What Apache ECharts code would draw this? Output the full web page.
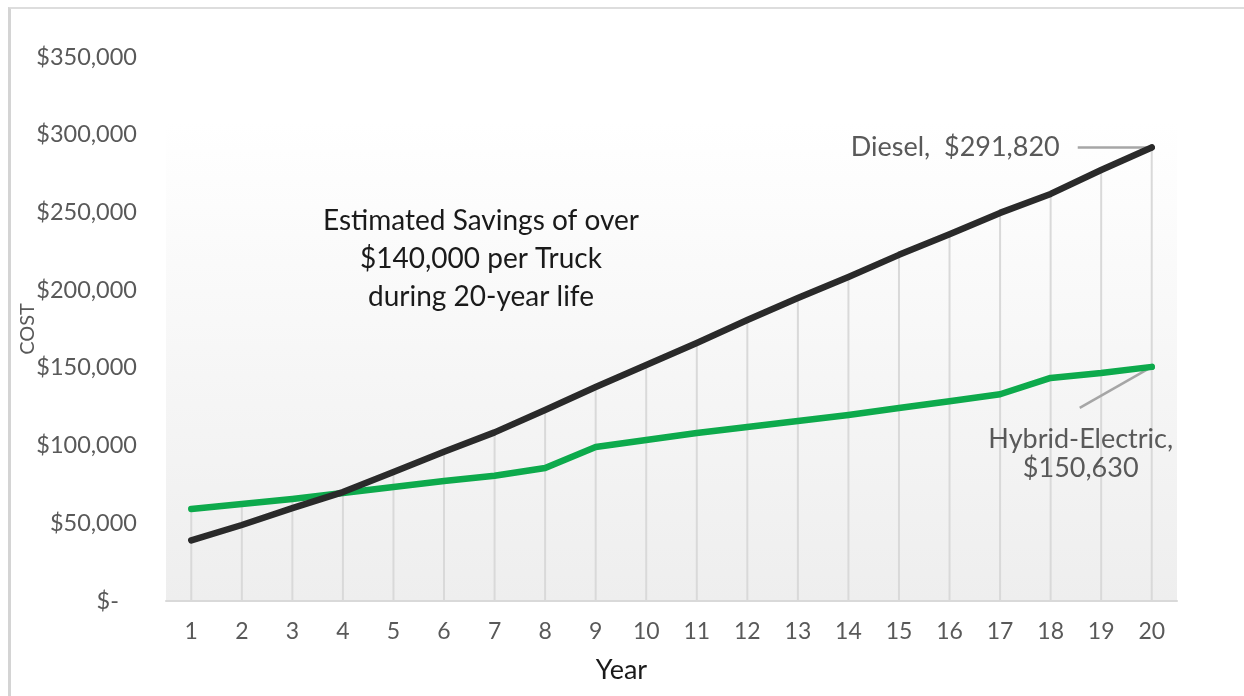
<!DOCTYPE html>
<html>
<head>
<meta charset="utf-8">
<script src="https://cdn.jsdelivr.net/npm/echarts@6/dist/echarts.min.js"></script>
<style>
  html, body { margin: 0; padding: 0; background: #ffffff; }
  #chart { position: absolute; left: 0; top: 0; width: 1244px; height: 696px; }
  #frame { position: absolute; left: 8px; top: 7px; right: 0; bottom: 0;
           border-left: 3px solid #d4d4d4; border-top: 2px solid #dddddd; pointer-events: none; }
</style>
</head>
<body>
<div id="chart"></div>
<div id="frame"></div>
<script>
// Cumulative cost of ownership per truck, by year of service
const years = ['1','2','3','4','5','6','7','8','9','10','11','12','13','14','15','16','17','18','19','20'];
const dieselCost = [39000, 48900, 59800, 70100, 83000, 96000, 108500, 122900, 137700, 151900,
                    166000, 180800, 195000, 208500, 222700, 236000, 249700, 261900, 277300, 291820];
const hybridCost = [59200, 62400, 65600, 69500, 73400, 77200, 80600, 85600, 99100, 103600,
                    108100, 112000, 115800, 119700, 124200, 128500, 133000, 143500, 146700, 150630];
const seriesNames = ['Diesel', 'Hybrid-Electric'];
const savingsNote = ['Estimated Savings of over', '$140,000 per Truck', 'during 20-year life'];

const FONT = 'Lato, "Open Sans", sans-serif';
const GREY_TEXT = '#595959';
const DIESEL_COLOR = '#2a2a2a';
const HYBRID_COLOR = '#0daa4c';
const LEADER_COLOR = '#a6a6a6';

const money = v => v.toLocaleString('en-US');

// drop lines run from the higher of the two series down to the axis
const dropLineTop = years.map((_, i) => Math.max(dieselCost[i], hybridCost[i]));

const lastIdx = years.length - 1;

const dieselData = dieselCost.map((v, i) => i !== lastIdx ? v : {
  value: v,
  symbolSize: 6,
  label: {
    show: true, position: 'left', distance: 89,
    formatter: p => seriesNames[0] + ',  $' + money(p.value),
    fontSize: 27, color: GREY_TEXT, fontFamily: FONT
  }
});

const hybridData = hybridCost.map((v, i) => i !== lastIdx ? v : {
  value: v,
  symbolSize: 6,
  label: {
    show: true, position: 'bottom', distance: 55, offset: [-71, 0], align: 'center',
    formatter: p => seriesNames[1] + ',\n$' + money(p.value),
    fontSize: 27, lineHeight: 29, color: GREY_TEXT, fontFamily: FONT
  }
});

const chart = echarts.init(document.getElementById('chart'), null, { renderer: 'canvas' });

chart.setOption({
  animation: false,
  backgroundColor: '#ffffff',
  grid: {
    left: 166, right: 67, top: 57, bottom: 95,
    show: true, borderWidth: 0,
    backgroundColor: new echarts.graphic.LinearGradient(0, 0, 0, 1, [
      { offset: 0, color: '#ffffff' },
      { offset: 0.12, color: '#ffffff' },
      { offset: 1, color: '#eeeeee' }
    ])
  },
  xAxis: {
    type: 'category',
    data: years,
    boundaryGap: true,
    axisLine: { lineStyle: { color: '#d9d9d9', width: 2 } },
    axisTick: { show: false },
    splitLine: { show: false },
    axisLabel: { color: GREY_TEXT, fontSize: 23, margin: 19, fontFamily: FONT },
    name: 'Year',
    nameLocation: 'middle',
    nameGap: 56,
    nameMoveOverlap: false,
    nameTextStyle: { color: '#1a1a1a', fontSize: 27, fontFamily: FONT, padding: [0, 100, 0, 0] }
  },
  yAxis: {
    type: 'value',
    min: 0, max: 350000, interval: 50000,
    axisLine: { show: false },
    axisTick: { show: false },
    splitLine: { show: false },
    axisLabel: {
      color: GREY_TEXT, fontSize: 23.5, margin: 29, fontFamily: FONT,
      formatter: v => v === 0 ? '$-   ' : '$' + money(v)
    },
    name: 'COST',
    nameLocation: 'middle',
    nameGap: 128,
    nameMoveOverlap: false,
    nameTextStyle: { color: GREY_TEXT, fontSize: 20, fontFamily: FONT }
  },
  graphic: [{
    id: 'savings',
    type: 'text',
    silent: true,
    style: {
      text: savingsNote.join('\n'),
      x: 481, y: 202,
      textAlign: 'center',
      fontSize: 28, lineHeight: 38,
      fontFamily: FONT,
      fill: '#1a1a1a'
    }
  }],
  series: [
    {
      name: 'drop lines',
      type: 'bar',
      data: dropLineTop,
      barWidth: 2,
      silent: true,
      itemStyle: { color: '#d9d9d9' },
      z: 1
    },
    {
      name: seriesNames[1],
      type: 'line',
      data: hybridData,
      symbol: 'circle',
      symbolSize: 0,
      showSymbol: true,
      showAllSymbol: true,
      itemStyle: { color: HYBRID_COLOR },
      lineStyle: { color: HYBRID_COLOR, width: 6.5, cap: 'round', join: 'round' },
      z: 3
    },
    {
      name: seriesNames[0],
      type: 'line',
      data: dieselData,
      symbol: 'circle',
      symbolSize: 0,
      showSymbol: true,
      showAllSymbol: true,
      itemStyle: { color: DIESEL_COLOR },
      lineStyle: { color: DIESEL_COLOR, width: 6.5, cap: 'round', join: 'round' },
      z: 4
    }
  ]
});

// leader lines from each end-of-series label to its final point
const dieselEnd = chart.convertToPixel({ seriesIndex: 2 }, [lastIdx, dieselCost[lastIdx]]);
const hybridEnd = chart.convertToPixel({ seriesIndex: 1 }, [lastIdx, hybridCost[lastIdx]]);
chart.setOption({
  graphic: [
    {
      id: 'dieselLeader', type: 'line', silent: true, z: 2,
      shape: { x1: dieselEnd[0] - 74, y1: dieselEnd[1], x2: dieselEnd[0], y2: dieselEnd[1] },
      style: { stroke: LEADER_COLOR, lineWidth: 2.5 }
    },
    {
      id: 'hybridLeader', type: 'line', silent: true, z: 2,
      shape: { x1: hybridEnd[0], y1: hybridEnd[1], x2: hybridEnd[0] - 72, y2: hybridEnd[1] + 41 },
      style: { stroke: LEADER_COLOR, lineWidth: 2.5 }
    }
  ]
});
</script>
</body>
</html>
